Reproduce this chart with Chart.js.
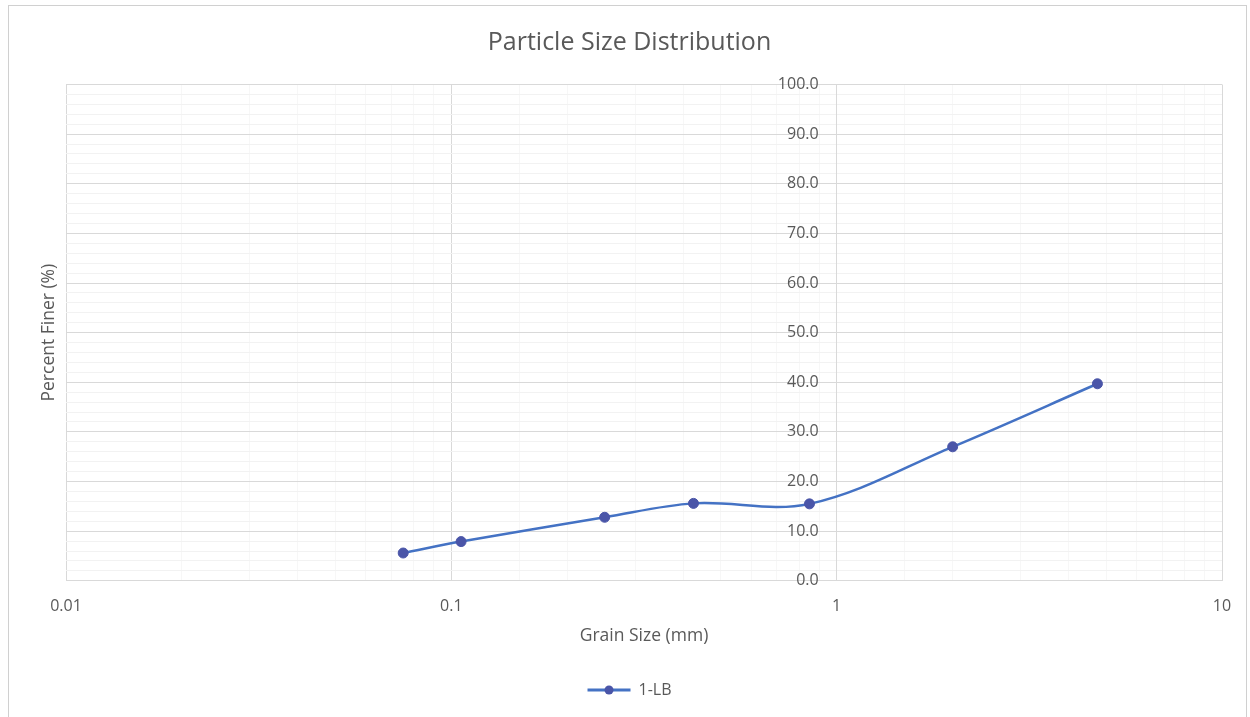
<!DOCTYPE html>
<html>
<head>
<meta charset="utf-8">
<script src="https://cdn.jsdelivr.net/npm/chart.js@4.4.1/dist/chart.umd.min.js"></script>
<style>
  html, body { margin: 0; padding: 0; background: #ffffff; }
  #wrap { position: relative; width: 1250px; height: 717px; }
  #frame { position: absolute; left: 8px; top: 5px; width: 1239px; height: 720px;
           border: 1px solid #d0d0d0; box-sizing: border-box; pointer-events: none; }
  canvas { position: absolute; left: 0; top: 0; }
</style>
</head>
<body>
<div id="wrap">
  <canvas id="chart" width="1250" height="717"></canvas>
  <div id="frame"></div>
</div>
<script>
// Sieve analysis for sample 1-LB
const seriesName = '1-LB';
const grainSizes = [0.075, 0.106, 0.25, 0.425, 0.85, 2.0, 4.75];   // mm
const percentFiner = [5.6, 7.9, 12.8, 15.6, 15.5, 27.0, 39.7];     // %
const xTickLabels = [0.01, 0.1, 1, 10];
const yTickLabels = [0, 10, 20, 30, 40, 50, 60, 70, 80, 90, 100];

const TEXT = '#595959';
const MAJOR = '#d9d9d9';
const MINOR_Y = '#f2f2f2';
const MINOR_X = '#f7f7f7';
const FONT = "'Open Sans', 'Liberation Sans', sans-serif";
const Y_LABEL_GAP = 18;   // gap between the crossing value axis and its labels

const isDecade = v => xTickLabels.some(t => Math.abs(Math.log10(v) - Math.log10(t)) < 1e-9);
const isTen = v => yTickLabels.includes(Math.round(v * 1000) / 1000);

// Linear scale that crosses the x axis at a value and keeps its labels
// on the left of the axis line, separated by a gap.
class CrossingLinearScale extends Chart.LinearScale {
  _computeLabelItems(chartArea) {
    const items = super._computeLabelItems(chartArea);
    items.forEach(it => { it.options.translation[0] -= Y_LABEL_GAP; });
    return items;
  }
}
CrossingLinearScale.id = 'crossingLinear';
CrossingLinearScale.defaults = Chart.LinearScale.defaults;
Chart.register(CrossingLinearScale);

// Draws the marker dot on top of the legend's line sample
const legendMarker = {
  id: 'legendMarker',
  afterDraw(chart) {
    const lg = chart.legend;
    if (!lg || !lg.legendHitBoxes) return;
    const ctx = chart.ctx;
    lg.legendHitBoxes.forEach(b => {
      const bw = lg.options.labels.boxWidth;
      const cx = b.left + bw / 2;
      const cy = b.top + b.height / 2;
      ctx.save();
      ctx.beginPath();
      ctx.arc(cx, cy, 4.5, 0, Math.PI * 2);
      ctx.fillStyle = '#4a55a8';
      ctx.fill();
      ctx.restore();
    });
  }
};

new Chart(document.getElementById('chart'), {
  type: 'line',
  data: {
    datasets: [{
      label: seriesName,
      data: grainSizes.map((x, i) => ({ x: x, y: percentFiner[i] })),
      borderColor: '#4472c4',
      borderWidth: 2.5,
      backgroundColor: '#4472c4',
      pointBackgroundColor: '#4a55a8',
      pointBorderColor: '#4a55a8',
      pointRadius: 5,
      pointBorderWidth: 1,
      tension: 0.35,
      fill: false,
      yAxisID: 'y'
    }]
  },
  options: {
    responsive: false,
    animation: false,
    devicePixelRatio: 1,
    layout: { padding: { top: 20, left: 37, right: 28, bottom: 9 } },
    plugins: {
      title: {
        display: true,
        text: 'Particle Size Distribution',
        color: TEXT,
        font: { family: FONT, size: 25, weight: 'normal' },
        padding: { top: 7.5, bottom: 27 }
      },
      legend: {
        display: true,
        position: 'bottom',
        labels: {
          color: TEXT,
          font: { family: FONT, size: 16 },
          boxWidth: 43,
          boxHeight: 3,
          padding: 10,
          generateLabels(chart) {
            return chart.data.datasets.map((ds, i) => ({
              text: ds.label,
              fillStyle: ds.borderColor,
              strokeStyle: ds.borderColor,
              lineWidth: 0,
              fontColor: TEXT,
              datasetIndex: i,
              hidden: false
            }));
          }
        }
      },
      tooltip: { enabled: false }
    },
    scales: {
      x: {
        type: 'logarithmic',
        position: 'bottom',
        min: 0.01,
        max: 10,
        grid: {
          drawTicks: false,
          color: c => (c.tick && isDecade(c.tick.value)) ? MAJOR : MINOR_X,
          lineWidth: 1
        },
        border: { display: true, color: MAJOR },
        ticks: {
          autoSkip: false,
          maxRotation: 0,
          padding: 16,
          color: TEXT,
          font: { family: FONT, size: 16 },
          callback: v => isDecade(v) ? String(v) : ''
        },
        title: {
          display: true,
          text: 'Grain Size (mm)',
          color: TEXT,
          font: { family: FONT, size: 17.5 },
          padding: { top: -6, bottom: 25 }
        }
      },
      y: {
        type: 'crossingLinear',
        position: { x: 1 },
        min: 0,
        max: 100,
        grid: {
          drawTicks: false,
          color: c => (c.tick && isTen(c.tick.value)) ? MAJOR : MINOR_Y,
          lineWidth: 1
        },
        border: { display: true, color: MAJOR },
        ticks: {
          stepSize: 2,
          autoSkip: false,
          color: TEXT,
          font: { family: FONT, size: 16 },
          callback: v => isTen(v) ? v.toFixed(1) : ''
        }
      },
      yTitle: {
        type: 'linear',
        position: 'left',
        display: true,
        grid: { display: false },
        border: { display: false },
        ticks: { display: false },
        title: {
          display: true,
          text: 'Percent Finer (%)',
          color: TEXT,
          font: { family: FONT, size: 17.5 },
          padding: { top: 2, bottom: -2 }
        }
      }
    }
  },
  plugins: [legendMarker]
});
</script>
</body>
</html>
